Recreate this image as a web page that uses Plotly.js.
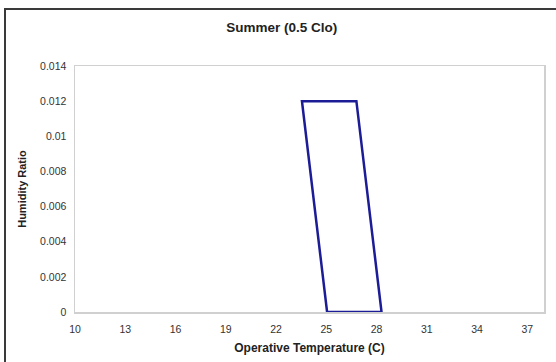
<!DOCTYPE html>
<html>
<head>
<meta charset="utf-8">
<script src="https://cdn.plot.ly/plotly-3.0.1.min.js"></script>
<style>
html,body{margin:0;padding:0;background:#fff;}
#wrap{position:relative;width:556px;height:362px;overflow:hidden;}
#chart{position:absolute;left:0;top:0;width:556px;height:362px;}
#frame{position:absolute;left:4px;top:8px;width:600px;height:400px;border-left:2px solid #3a3a3a;border-top:2px solid #3a3a3a;pointer-events:none;}
</style>
</head>
<body>
<div id="wrap"><div id="chart"></div><div id="frame"></div></div>
<script>
// Comfort zone polygon (operative temperature, humidity ratio)
const zoneTemp = [25.05, 28.3, 26.8, 23.55, 25.05];
const zoneHumidity = [0, 0, 0.012, 0.012, 0];

const xTickVals = [10, 13, 16, 19, 22, 25, 28, 31, 34, 37];
const yTickVals = [0, 0.002, 0.004, 0.006, 0.008, 0.01, 0.012, 0.014];
const yTickText = ['0', '0.002', '0.004', '0.006', '0.008', '0.01', '0.012', '0.014'];

const font = 'Liberation Sans, Arial, sans-serif';

Plotly.newPlot('chart', [{
  type: 'scatter',
  mode: 'lines',
  x: zoneTemp,
  y: zoneHumidity,
  line: {color: '#1c1c96', width: 2.5},
  hoverinfo: 'skip',
  showlegend: false
}], {
  width: 556,
  height: 362,
  margin: {l: 75, r: 12, t: 66, b: 50},
  paper_bgcolor: '#ffffff',
  plot_bgcolor: '#ffffff',
  font: {family: font, color: '#333333', size: 10.5},
  title: {
    text: '<b>Summer (0.5 Clo)</b>',
    font: {family: font, size: 13.5, color: '#222222'},
    x: 0.441, xref: 'paper', xanchor: 'center',
    y: 0.924, yref: 'container', yanchor: 'middle'
  },
  xaxis: {
    range: [10, 38],
    tickvals: xTickVals,
    ticks: 'outside',
    ticklen: 7,
    tickcolor: 'rgba(0,0,0,0)',
    showgrid: false,
    zeroline: false,
    showline: true,
    linecolor: '#d0d0d0',
    linewidth: 1.5,
    mirror: true,
    tickfont: {family: font, size: 10.5, color: '#333333'},
    title: {text: '<b>Operative Temperature (C)</b>', font: {family: font, size: 12, color: '#222222'}, standoff: 9}
  },
  yaxis: {
    range: [0, 0.014],
    tickvals: yTickVals,
    ticktext: yTickText,
    ticks: 'outside',
    ticklen: 5,
    tickcolor: 'rgba(0,0,0,0)',
    showgrid: false,
    zeroline: false,
    showline: true,
    linecolor: '#d0d0d0',
    linewidth: 1.5,
    mirror: true,
    tickfont: {family: font, size: 10.5, color: '#333333'},
    title: {text: '<b>Humidity Ratio</b>', font: {family: font, size: 11, color: '#222222'}, standoff: 11}
  }
}, {staticPlot: true, displayModeBar: false});
</script>
</body>
</html>
